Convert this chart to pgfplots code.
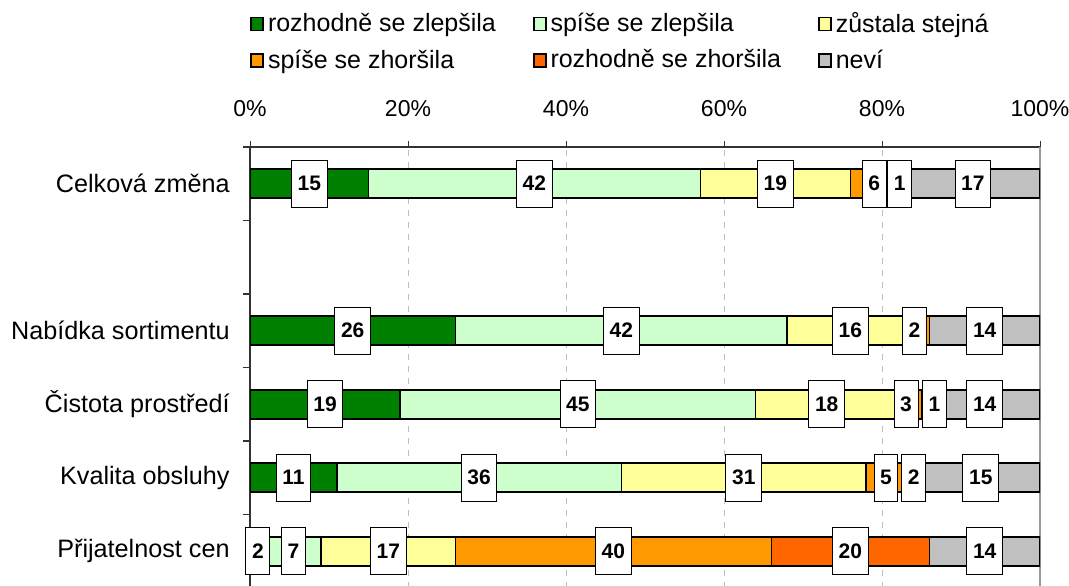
\documentclass[border=0pt]{standalone}
\usepackage{pgfplots}
\usepackage{pgfplotstable}
\pgfplotsset{compat=1.18}
\usepackage{fontspec}
\setmainfont{Liberation Sans}

\definecolor{cA}{HTML}{008000}
\definecolor{cB}{HTML}{CCFFCC}
\definecolor{cC}{HTML}{FFFF99}
\definecolor{cD}{HTML}{FF9900}
\definecolor{cE}{HTML}{FF6600}
\definecolor{cF}{HTML}{C0C0C0}

% y: 5 = Celkova zmena, 4 = empty row, 3..0 = items
% sd, se: small horizontal nudges (pt) of the value boxes of series d and e
\pgfplotstableread{
y a  b  c  d  e  f  sd   se
0 2  7  17 40 20 14 0    0
1 11 36 31 5  2  15 0    0
2 19 45 18 3  1  14 -1.8 4.5
3 26 42 16 2  0  14 -3.5 0
5 15 42 19 6  1  17 0    -1
}\data

\newcommand{\lbox}[1]{\ifdim#1pt>0pt\relax{\setlength{\fboxsep}{0pt}\setlength{\fboxrule}{0.5pt}\fcolorbox{black}{white}{\hspace*{2.8pt}\rule[-8pt]{0pt}{23pt}\fontsize{10.5}{12}\selectfont\bfseries #1\hspace*{2.8pt}}}\fi}

\pgfplotsset{
  base/.style={
    scale only axis, width=395pt, height=220.5pt,
    at={(125pt,219pt)}, anchor=north west,
    xmin=0, xmax=100, ymin=-0.5, ymax=5.5,
    xbar stacked, bar width=0.395,
  },
  bars/.style={fill=#1, draw=black, line width=0.8pt},
}

\begin{document}
\begin{tikzpicture}
\begin{axis}[base,
  axis x line*=top, axis y line*=left,
  x axis line style={draw=black!80, line width=0.6pt},
  y axis line style={draw=black!80, line width=0.8pt},
  xtick={0,20,40,60,80,100},
  xticklabel={\pgfmathprintnumber{\tick}\%},
  /pgf/number format/assume math mode=true,
  xticklabel style={font=\fontsize{11.5}{13}\selectfont, anchor=base, yshift=12pt},
  xmajorgrids, grid style={gray!50, dash pattern=on 3pt off 3pt},
  tick align=outside, major tick length=3pt,
  x tick style={draw=black!80, line width=0.5pt},
  extra x ticks={100}, extra x tick labels={},
  extra x tick style={grid style={solid, gray!80, line width=0.6pt}},
  ytick={0,1,2,3,5},
  yticklabels={Přijatelnost cen, Kvalita obsluhy, Čistota prostředí, Nabídka sortimentu, Celková změna},
  y tick style={draw=none},
  yticklabel style={font=\fontsize{12.6}{14}\selectfont, anchor=east, inner sep=0pt, xshift=-7pt},
  extra y ticks={-0.5,0.5,1.5,2.5,3.5,4.5,5.5},
  extra y tick labels={},
  extra y tick style={y tick style={draw=black!80, line width=0.6pt}, major tick length=3.5pt},
  legend columns=3,
  legend cell align=left,
  legend style={at={(0.0,1.315)}, anchor=north west, draw=none, fill=none, inner sep=0pt,
    font=\fontsize{12.5}{15}\selectfont, row sep=3pt,
    /tikz/every even column/.append style={column sep=16.5pt}},
  legend image code/.code={\draw[#1, draw=black, line width=0.8pt] (0pt,-3.2pt) rectangle (6pt,3.2pt);},
]
\addplot[bars=cA] table[x=a, y=y]{\data}; \addlegendentry{rozhodně se zlepšila}
\addplot[bars=cB] table[x=b, y=y]{\data}; \addlegendentry{spíše se zlepšila}
\addplot[bars=cC] table[x=c, y=y]{\data}; \addlegendentry{zůstala stejná}
\addplot[bars=cD] table[x=d, y=y]{\data}; \addlegendentry{spíše se zhoršila}
\addplot[bars=cE] table[x=e, y=y]{\data}; \addlegendentry{rozhodně se zhoršila}
\addplot[bars=cF] table[x=f, y=y]{\data}; \addlegendentry{neví}
\end{axis}
\begin{axis}[base, hide axis,
  point meta=explicit symbolic,
  nodes near coords={\lbox{\pgfplotspointmeta}},
  every node near coord/.style={anchor=center, inner sep=0pt},
]
\addplot[draw=none, fill=none] table[x=a, y=y, meta=a]{\data};
\addplot[draw=none, fill=none] table[x=b, y=y, meta=b]{\data};
\addplot[draw=none, fill=none] table[x=c, y=y, meta=c]{\data};
\addplot[draw=none, fill=none, visualization depends on={\thisrow{sd} \as \nudge},
  every node near coord/.append style={xshift=\nudge pt}] table[x=d, y=y, meta=d]{\data};
\addplot[draw=none, fill=none, visualization depends on={\thisrow{se} \as \nudge},
  every node near coord/.append style={xshift=\nudge pt}] table[x=e, y=y, meta=e]{\data};
\addplot[draw=none, fill=none] table[x=f, y=y, meta=f]{\data};
\end{axis}
\pgfresetboundingbox
\useasboundingbox (0,0) rectangle (534.5pt,292.5pt);
\end{tikzpicture}
\end{document}
